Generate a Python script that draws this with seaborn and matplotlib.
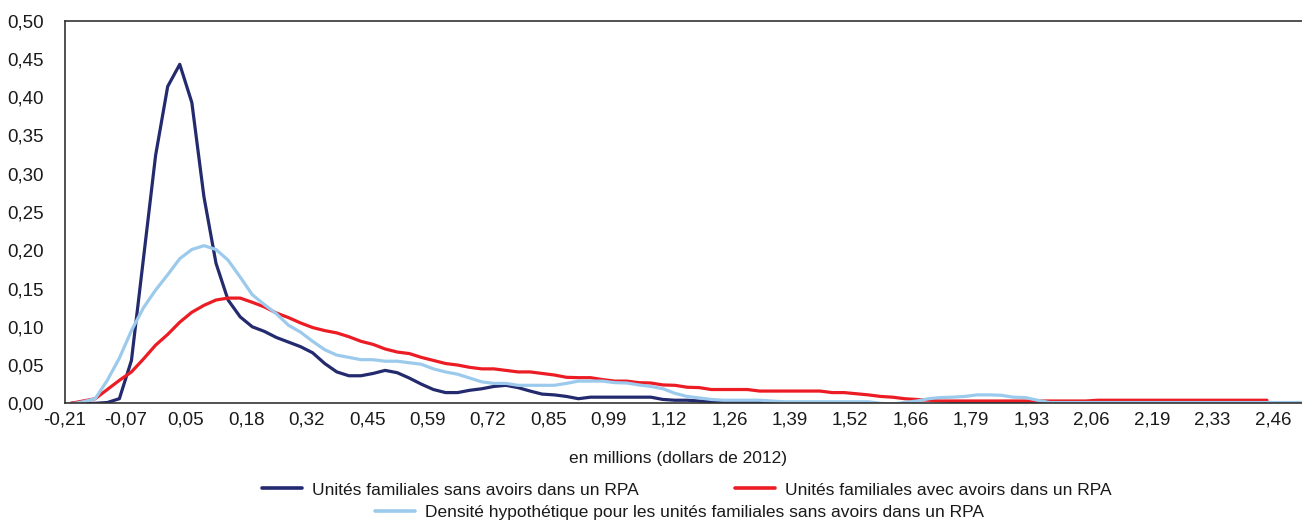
import numpy as np
import pandas as pd
import seaborn as sns
import matplotlib
matplotlib.use('Agg')
import matplotlib.pyplot as plt
from matplotlib.lines import Line2D
from matplotlib.ticker import FuncFormatter

# Densités (une valeur par catégorie de patrimoine)
x_labels = ['-0,21', '-0,07', '0,05', '0,18', '0,32', '0,45', '0,59', '0,72', '0,85', '0,99',
            '1,12', '1,26', '1,39', '1,52', '1,66', '1,79', '1,93', '2,06', '2,19', '2,33', '2,46']

sans_rpa = [0.0, 0.0, 0.0, 0.001, 0.006, 0.056, 0.19, 0.324, 0.414, 0.443,
            0.393, 0.27, 0.183, 0.135, 0.113, 0.100, 0.094, 0.086, 0.080, 0.074,
            0.066, 0.052, 0.041, 0.036, 0.036, 0.039, 0.043, 0.040, 0.033, 0.025,
            0.018, 0.014, 0.014, 0.017, 0.019, 0.022, 0.0235, 0.0205, 0.016, 0.012,
            0.011, 0.009, 0.006, 0.008, 0.008, 0.008, 0.008, 0.008, 0.008, 0.005,
            0.004, 0.004, 0.003, 0.002, 0.001, 0.001, 0.001, 0.001, 0.001, 0.001,
            0.0, 0.0, 0.0, 0.0, 0.0, -0.001, -0.003, -0.003, -0.002, 0.0,
            -0.001, -0.002, -0.002, 0.0, 0.0, 0.001, 0.002, 0.002, 0.002, 0.002,
            0.001, 0.0, -0.003, -0.002, 0.0, 0.0, 0.0, 0.0, -0.002, -0.003,
            -0.003, -0.001, 0.0, 0.0, 0.0, 0.0, 0.0, 0.0, 0.0, 0.0,
            0.0, 0.0, 0.0]

avec_rpa = [0.0, 0.003, 0.006, 0.018, 0.030, 0.041, 0.058, 0.076, 0.090, 0.106,
            0.119, 0.128, 0.135, 0.1375, 0.1375, 0.132, 0.126, 0.118, 0.112, 0.105,
            0.099, 0.095, 0.092, 0.087, 0.081, 0.077, 0.071, 0.067, 0.065, 0.060,
            0.056, 0.052, 0.050, 0.047, 0.045, 0.045, 0.043, 0.041, 0.041, 0.039,
            0.037, 0.034, 0.0335, 0.0335, 0.031, 0.029, 0.029, 0.027, 0.0265, 0.024,
            0.0235, 0.021, 0.0205, 0.018, 0.018, 0.018, 0.018, 0.016, 0.016, 0.016,
            0.016, 0.016, 0.016, 0.014, 0.014, 0.0125, 0.011, 0.009, 0.008, 0.006,
            0.005, 0.004, 0.003, 0.003, 0.003, 0.003, 0.003, 0.003, 0.003, 0.003,
            0.003, 0.003, 0.003, 0.003, 0.003, 0.004, 0.004, 0.004, 0.004, 0.004,
            0.004, 0.004, 0.004, 0.004, 0.004, 0.004, 0.004, 0.004, 0.004, 0.004]

hypothetique = [-0.001, 0.002, 0.006, 0.030, 0.059, 0.095, 0.125, 0.148, 0.168, 0.189,
                0.201, 0.206, 0.201, 0.187, 0.165, 0.142, 0.129, 0.117, 0.102, 0.093,
                0.081, 0.070, 0.063, 0.060, 0.057, 0.057, 0.055, 0.055, 0.053, 0.051,
                0.045, 0.041, 0.038, 0.033, 0.028, 0.026, 0.026, 0.0235, 0.0235, 0.0235,
                0.0235, 0.026, 0.029, 0.029, 0.029, 0.027, 0.0265, 0.024, 0.022, 0.019,
                0.013, 0.009, 0.007, 0.005, 0.004, 0.004, 0.004, 0.004, 0.003, 0.002,
                0.002, 0.002, 0.002, 0.002, 0.002, 0.002, 0.002, 0.0, -0.001, 0.001,
                0.003, 0.006, 0.0075, 0.008, 0.009, 0.011, 0.011, 0.0105, 0.008, 0.0075,
                0.004, 0.001, 0.001, 0.001, 0.001, 0.001, 0.001, 0.001, 0.001, 0.001,
                0.001, 0.001, 0.001, 0.001, 0.001, 0.001, 0.001, 0.001, 0.001, 0.001,
                0.001, 0.001, 0.001]

lab_sans = 'Unités familiales sans avoirs dans un RPA'
lab_avec = 'Unités familiales avec avoirs dans un RPA'
lab_hyp = 'Densité hypothétique pour les unités familiales sans avoirs dans un RPA'
couleurs = {lab_sans: '#232a6e', lab_avec: '#ec1c24', lab_hyp: '#9ccaec'}

# Tableau long pour seaborn
frames = []
for nom, vals in [(lab_sans, sans_rpa), (lab_avec, avec_rpa), (lab_hyp, hypothetique)]:
    frames.append(pd.DataFrame({'pos': np.arange(len(vals)) + 0.5, 'densite': vals, 'serie': nom}))
df = pd.concat(frames, ignore_index=True)

sns.set_theme(style='white')
plt.rcParams['font.family'] = ['Liberation Sans', 'DejaVu Sans']
fs = 12.5
fs_ticks = 13.5

fig = plt.figure(figsize=(13.02, 5.23), dpi=100)
ax = fig.add_axes([65 / 1302, 119.7 / 523, 1237 / 1302, 382.6 / 523])

sns.lineplot(data=df, x='pos', y='densite', hue='serie', hue_order=[lab_sans, lab_avec, lab_hyp],
             palette=couleurs, estimator=None, linewidth=2.3, legend=False, ax=ax)

ax.set_xlim(0, 102.4)
ax.set_ylim(0, 0.5)
ax.set_yticks(np.arange(0, 0.501, 0.05))
ax.yaxis.set_major_formatter(FuncFormatter(lambda v, _: f'{v:.2f}'.replace('.', ',')))
ticks = np.arange(0, 103)
ax.set_xticks(ticks)
ax.set_xticklabels([x_labels[t // 5] if t % 5 == 0 else '' for t in ticks])
ax.tick_params(axis='both', direction='in', length=5, width=1, color='#333333',
               labelsize=fs_ticks, labelcolor='#1a1a1a')
ax.tick_params(axis='x', pad=6)
ax.tick_params(axis='y', pad=15)

for s in ['left', 'bottom', 'top']:
    ax.spines[s].set_color('#333333')
    ax.spines[s].set_linewidth(1.2)
ax.spines['right'].set_visible(False)

ax.set_ylabel('')
ax.set_xlabel('en millions (dollars de 2012)', fontsize=fs, color='#1a1a1a')
ax.xaxis.set_label_coords(0.4956, -0.124)
ax.xaxis.label.set_verticalalignment('top')

# Légende sur deux lignes, la troisième entrée centrée
for nom, x0, y0 in [(lab_sans, 262, 0.0631), (lab_avec, 735, 0.0631), (lab_hyp, 375, 0.021)]:
    h = Line2D([], [], color=couleurs[nom], linewidth=2.6)
    fig.legend(handles=[h], labels=[nom], loc='center left', bbox_to_anchor=(x0 / 1302, y0),
               frameon=False, borderpad=0, borderaxespad=0, handlelength=2.3,
               handletextpad=0.6, fontsize=fs, labelcolor='#1a1a1a')

fig.savefig('out.png', dpi=100)
